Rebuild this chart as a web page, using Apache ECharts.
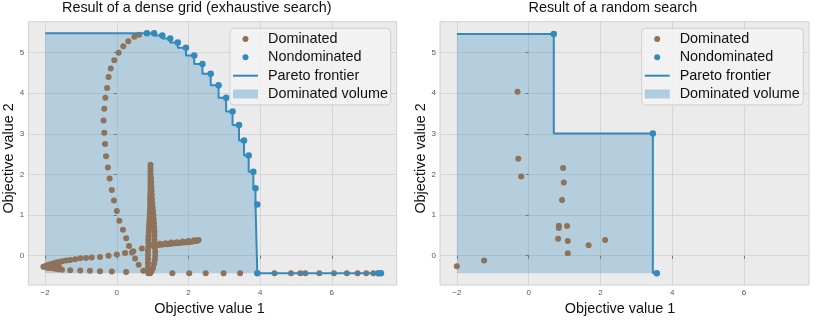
<!DOCTYPE html>
<html><head><meta charset="utf-8">
<script src="https://cdn.jsdelivr.net/npm/echarts@6/dist/echarts.min.js"></script>
<style>html,body{margin:0;padding:0;background:#fff}#c{width:815px;height:321px}</style>
</head><body><div id="c"></div>
<script>
// ---------- data ----------
const xTicks = [-2, 0, 2, 4, 6];
const yTicks = [0, 1, 2, 3, 4, 5];
const refPoint = [-2.0, -0.43];
const titles = ['Result of a dense grid (exhaustive search)', 'Result of a random search'];
const xName = 'Objective value 1';
const yName = 'Objective value 2';
const legendNames = ['Dominated', 'Nondominated', 'Pareto frontier', 'Dominated volume'];

// dense grid: dominated points
const gridArc = [[0.62,5.44],[0.49,5.39],[0.32,5.28],[0.18,5.16],[0.05,5.00],[-0.07,4.81],[-0.17,4.61],[-0.23,4.40],[-0.27,4.13],[-0.32,3.89],[-0.35,3.62],[-0.37,3.33],[-0.35,3.03],[-0.33,2.75],[-0.30,2.45],[-0.25,2.17],[-0.20,1.90],[-0.14,1.62],[-0.08,1.36],[0.00,1.10],[0.07,0.86],[0.17,0.64],[0.26,0.43],[0.34,0.24],[0.42,0.08],[0.51,-0.07],[0.61,-0.22],[0.74,-0.37],[0.88,-0.43]];
const gridSpike = [[0.94,2.24],[0.94,2.16],[0.94,2.08],[0.94,2.00],[0.94,1.92],[0.94,1.84],[0.94,1.76],[0.94,1.68],[0.94,1.60],[0.935,1.52],[0.93,1.44],[0.93,1.36],[0.93,1.28],[0.93,1.20],[0.925,1.12],[0.92,1.04],[0.915,0.96],[0.91,0.88],[0.905,0.80],[0.90,0.72],[0.895,0.64],[0.89,0.56],[0.885,0.48],[0.88,0.40],[0.88,0.32],
  [0.955,1.90],[0.96,1.80],[0.965,1.70],[0.97,1.60],[0.975,1.50],[0.98,1.40],[0.99,1.30],[1.00,1.20],[1.01,1.10],[1.02,1.00],[1.03,0.90],[1.035,0.80],[1.04,0.70],[1.05,0.60],[1.05,0.50],[1.05,0.40],[1.05,0.30],
  [0.88,0.22],[0.87,0.12],[0.87,0.02],[0.87,-0.08],[0.87,-0.18],[0.87,-0.28],[0.88,-0.38],
  [1.06,0.20],[1.07,0.10],[1.07,0.00],[1.06,-0.10],[1.04,-0.20],[1.01,-0.30],[0.97,-0.38],[0.93,-0.43]];
const gridWing = [[1.00,0.25],[1.08,0.26],[1.16,0.265],[1.24,0.27],[1.32,0.28],[1.40,0.285],[1.48,0.29],[1.56,0.30],[1.64,0.305],[1.72,0.31],[1.80,0.32],[1.88,0.325],[1.96,0.33],[2.04,0.34],[2.12,0.35],[2.20,0.36],[2.25,0.37],
  [1.04,0.28],[1.20,0.295],[1.36,0.31],[1.52,0.325],[1.68,0.335],[1.84,0.35],[2.00,0.36],[2.16,0.38],[2.28,0.39]];
const gridTailUpper = [[-2.05,-0.27],[-1.98,-0.245],[-1.92,-0.23],[-1.86,-0.215],[-1.80,-0.195],[-1.72,-0.175],[-1.63,-0.155],[-1.52,-0.135],[-1.41,-0.12],[-1.30,-0.105],[-1.16,-0.085],[-1.02,-0.065],[-0.86,-0.055],[-0.70,-0.045],[-0.47,-0.03],[-0.23,0.00],[0.00,0.03],[0.23,0.07],[0.46,0.11],[0.70,0.18]];
const gridTailLower = [[-1.98,-0.285],[-1.92,-0.295],[-1.86,-0.30],[-1.80,-0.31],[-1.72,-0.32],[-1.63,-0.33],[-1.53,-0.345],[-1.30,-0.36],[-1.02,-0.365],[-0.75,-0.37],[-0.47,-0.385],[-0.14,-0.39],[0.26,-0.40],[-1.90,-0.26],[-1.80,-0.255],[-1.70,-0.25],[-1.62,-0.245]];
const gridBottom = [[1.55,-0.43],[2.02,-0.43],[2.48,-0.43],[2.98,-0.43],[3.44,-0.43],[4.40,-0.43],[4.86,-0.43],[5.12,-0.43],[5.26,-0.43],[5.65,-0.43],[6.06,-0.43],[6.42,-0.43],[6.72,-0.43],[6.96,-0.43],[7.16,-0.43]];
const gridNondominated = [[0.84,5.48],[1.04,5.48],[1.27,5.42],[1.49,5.35],[1.70,5.25],[1.93,5.12],[2.16,4.93],[2.39,4.72],[2.62,4.48],[2.84,4.20],[3.05,3.89],[3.23,3.55],[3.41,3.22],[3.55,2.84],[3.68,2.47],[3.81,2.07],[3.87,1.66],[3.92,1.26],[3.92,-0.43],[7.30,-0.43],[7.37,-0.43]];

// random search
const randomDominated = [[-0.31,4.04],[-0.29,2.39],[-0.21,1.95],[0.96,2.16],[0.98,1.80],[0.93,1.37],[0.84,0.74],[0.84,0.68],[1.07,0.73],[0.82,0.42],[1.09,0.36],[1.67,0.26],[2.13,0.39],[1.09,0.06],[-1.24,-0.12],[-2.00,-0.26]];
const randomNondominated = [[0.70,5.46],[3.46,3.01],[3.57,-0.43]];

// ---------- style ----------
const FONT = 'Liberation Sans, Arial, Helvetica, sans-serif';
const BLUE = '#348ABD';
const BROWN = '#8e7259';
const FILL = 'rgba(52,138,189,0.30)';
const gridDominated = [].concat(gridArc, gridSpike, gridWing, gridTailUpper, gridTailLower, gridBottom);
const gridFrontier = [[refPoint[0], gridNondominated[0][1]]].concat(gridNondominated);
const randomFrontier = [[refPoint[0], randomNondominated[0][1]]].concat(randomNondominated);

const grids = [
  {left: 28.3, top: 21.7, width: 368.4, height: 269},
  {left: 440, top: 21.7, width: 369, height: 269}
];
const minus = v => String(v).replace('-', '\u2212');

function xAx(gi) {
  return {type: 'value', gridIndex: gi, min: -2.47, max: 7.81, minInterval: 2, maxInterval: 2,
    axisLine: {show: false},
    axisTick: {show: true, customValues: xTicks, length: 3, lineStyle: {color: '#777'}},
    axisLabel: {customValues: xTicks, fontSize: 8, color: '#555', margin: 4, fontFamily: FONT, formatter: minus},
    splitLine: {show: true, lineStyle: {color: '#d6d6d6', width: 1}},
    name: xName, nameLocation: 'middle', nameGap: 14,
    nameTextStyle: {fontSize: 14.4, color: '#111', fontFamily: FONT, padding: [0, gi === 0 ? 6 : 9, 0, 0]}};
}
function yAx(gi) {
  return {type: 'value', gridIndex: gi, min: -0.723, max: 5.762, minInterval: 1, maxInterval: 1,
    axisLine: {show: false},
    axisTick: {show: true, customValues: yTicks, length: 3, lineStyle: {color: '#777'}},
    axisLabel: {customValues: yTicks, fontSize: 8, color: '#555', margin: 4, fontFamily: FONT, formatter: minus},
    splitLine: {show: true, lineStyle: {color: '#d6d6d6', width: 1}},
    name: yName, nameLocation: 'middle', nameGap: 12,
    nameTextStyle: {fontSize: 14.4, color: '#111', fontFamily: FONT, padding: [0, 10, 0, 0]}};
}
function seriesFor(gi, dominated, nondominated, frontier) {
  return [
    {type: 'line', name: 'Dominated volume', xAxisIndex: gi, yAxisIndex: gi, data: frontier, step: 'start',
      symbol: 'none', color: FILL, lineStyle: {width: 0, opacity: 0}, areaStyle: {color: FILL, origin: refPoint[1], opacity: 1}, z: 1, silent: true},
    {type: 'scatter', name: 'Dominated', xAxisIndex: gi, yAxisIndex: gi, data: dominated, symbolSize: 6,
      itemStyle: {color: BROWN, opacity: 1}, z: 2, silent: true},
    {type: 'line', name: 'Pareto frontier', xAxisIndex: gi, yAxisIndex: gi, data: frontier, step: 'start',
      symbol: 'none', color: BLUE, lineStyle: {color: BLUE, width: 2}, z: 3, silent: true},
    {type: 'scatter', name: 'Nondominated', xAxisIndex: gi, yAxisIndex: gi, data: nondominated, symbolSize: 6.5,
      itemStyle: {color: BLUE, opacity: 1}, z: 4, silent: true}
  ];
}
const rowY = [39, 57.3, 75.7, 94];
function legendsFor(iconLeft) {
  return legendNames.map((n, i) => {
    let item, h, shift = 0;
    if (i < 2) { item = {name: n, icon: 'circle'}; h = 6; shift = 9.5; }
    else if (i === 2) { item = {name: n, icon: 'path://M0,0L25,0L25,2L0,2Z', itemStyle: {color: BLUE}}; h = 2; }
    else { item = {name: n, icon: 'rect', itemStyle: {color: 'rgba(52,138,189,0.36)'}}; h = 9; }
    return {left: iconLeft + shift, top: rowY[i] - 8, padding: 0, itemGap: 0, orient: 'vertical', selectedMode: false,
      itemWidth: 25, itemHeight: h, data: [item], z: 10,
      textStyle: {fontSize: 14.4, color: '#111', fontFamily: FONT, lineHeight: 16, padding: [0, 0, 0, 5]}};
  });
}

const option = {
  animation: false,
  backgroundColor: '#ffffff',
  title: [
    {text: titles[0], left: 62, top: 1.5, padding: 0, textStyle: {fontSize: 14.4, fontWeight: 'normal', color: '#111', fontFamily: FONT}},
    {text: titles[1], left: 528.5, top: 1.5, padding: 0, textStyle: {fontSize: 14.4, fontWeight: 'normal', color: '#111', fontFamily: FONT}}
  ],
  grid: grids.map(g => Object.assign({show: true, backgroundColor: '#ebebeb', borderColor: '#d0d0d0', borderWidth: 1}, g)),
  xAxis: [xAx(0), xAx(1)],
  yAxis: [yAx(0), yAx(1)],
  graphic: [
    {type: 'rect', z: 8, shape: {x: 230, y: 28.3, width: 160.7, height: 76.7, r: 4}, style: {fill: 'rgba(243,243,243,0.85)', stroke: '#cfcfcf', lineWidth: 1}},
    {type: 'rect', z: 8, shape: {x: 641.7, y: 28.3, width: 161.6, height: 76.7, r: 4}, style: {fill: 'rgba(243,243,243,0.85)', stroke: '#cfcfcf', lineWidth: 1}}
  ],
  legend: legendsFor(233).concat(legendsFor(644.7)),
  series: seriesFor(0, gridDominated, gridNondominated, gridFrontier)
    .concat(seriesFor(1, randomDominated, randomNondominated, randomFrontier))
};
const chart = echarts.init(document.getElementById('c'), null, {renderer: 'canvas'});
chart.setOption(option);
</script>
</body></html>
